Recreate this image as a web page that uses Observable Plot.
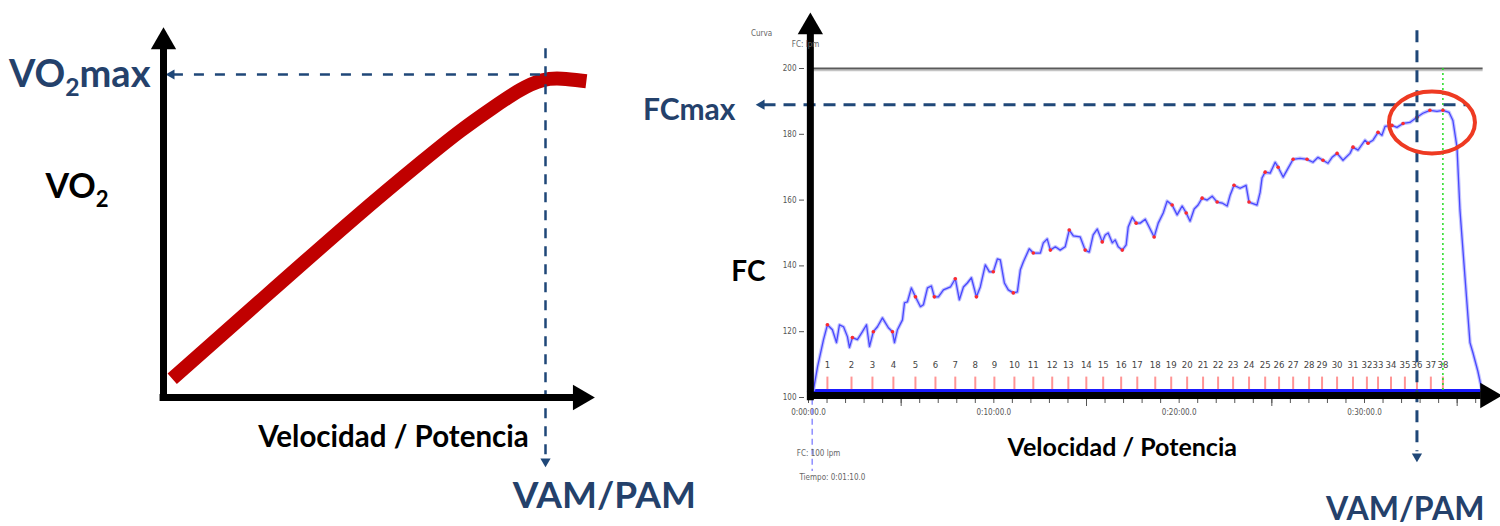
<!DOCTYPE html>
<html><head><meta charset="utf-8">
<script src="https://cdn.jsdelivr.net/npm/d3@7"></script>
<script src="https://cdn.jsdelivr.net/npm/@observablehq/plot@0.6"></script>
<style>
body{margin:0;background:#fff;}
#wrap{position:relative;width:1500px;height:526px;overflow:hidden;background:#fff;}
#wrap svg{position:absolute;top:0;overflow:visible;}
</style></head><body><div id="wrap"></div>
<script>
// ---------- LEFT: VO2 vs speed (x: % of VAM, y: % of VO2max) ----------
const vo2Speed = [2.28, 25.4, 51.6, 69.0, 77.7, 86.4, 93.5, 99.5, 103.9, 110.7];
const vo2Value = [5.79, 30.0, 57.4, 74.4, 82.7, 89.9, 95.6, 98.7, 98.9, 97.9];
const vo2maxLevel = 100;
const vamLevel = 100;

// ---------- RIGHT: heart rate (bpm) vs time (min) ----------
const hrTime = [0, 0.27, 0.49, 0.81, 1.02, 1.29, 1.51, 1.67, 1.89, 2.10, 2.21, 2.37, 2.64, 2.91, 3.13, 3.29, 3.50, 3.72, 3.99, 4.15, 4.31, 4.53, 4.64, 4.80, 5.07, 5.18, 5.34, 5.55, 5.77, 6.04, 6.20, 6.42, 6.63, 6.79, 7.01, 7.28, 7.66, 7.92, 8.14, 8.36, 8.57, 8.79, 9.06, 9.27, 9.54, 9.76, 9.97, 10.19, 10.35, 10.57, 10.78, 11.05, 11.27, 11.43, 11.59, 11.91, 12.13, 12.51, 12.67, 12.88, 13.05, 13.32, 13.58, 13.85, 14.07, 14.29, 14.66, 14.93, 15.15, 15.36, 15.58, 15.85, 16.01, 16.17, 16.39, 16.55, 16.71, 16.93, 17.14, 17.25, 17.47, 17.68, 17.90, 18.17, 18.38, 18.65, 18.87, 19.14, 19.35, 19.62, 19.89, 20.16, 20.38, 20.59, 20.81, 21.02, 21.24, 21.51, 21.78, 22.05, 22.32, 22.59, 22.75, 22.96, 23.29, 23.61, 23.77, 24.20, 24.37, 24.47, 24.64, 24.91, 25.18, 25.34, 25.61, 25.88, 26.15, 26.52, 26.90, 27.22, 27.49, 27.76, 28.03, 28.25, 28.52, 28.84, 29.22, 29.38, 29.65, 30.03, 30.19, 30.46, 30.73, 30.94, 31.11, 31.48, 31.75, 32.08, 32.45, 32.83, 33.15, 33.53, 33.91, 34.23, 34.56, 34.77, 34.99, 35.15, 35.42, 35.69, 35.85, 36.12, 36.33];
const hrValue = [101.8, 102.4, 109.4, 117.6, 122.1, 120.6, 116.7, 122.1, 121.5, 118.5, 115.2, 118.2, 117.6, 120.0, 122.1, 115.5, 120.0, 121.5, 124.2, 122.7, 121.2, 120.0, 116.7, 120.6, 123.6, 128.8, 129.1, 133.3, 130.6, 127.6, 128.2, 133.3, 133.9, 130.6, 130.6, 132.7, 133.6, 136.1, 129.7, 133.6, 134.8, 136.4, 130.6, 133.6, 140.3, 138.2, 138.2, 142.1, 141.8, 134.8, 132.7, 131.8, 132.1, 138.8, 141.2, 145.2, 143.9, 143.9, 147.0, 148.2, 144.8, 145.8, 144.8, 145.8, 150.9, 149.1, 148.8, 144.8, 144.2, 149.4, 151.2, 147.3, 149.4, 150.0, 147.0, 147.9, 145.8, 144.8, 146.4, 151.8, 154.8, 153.0, 153.0, 154.2, 151.8, 148.8, 153.0, 156.1, 159.7, 158.5, 155.5, 158.2, 156.1, 153.6, 157.3, 158.5, 160.6, 160.0, 161.2, 159.4, 159.1, 158.2, 161.5, 164.5, 163.6, 164.5, 159.4, 158.5, 162.4, 166.7, 168.5, 168.2, 171.5, 170.0, 167.0, 169.7, 172.4, 172.7, 172.4, 171.5, 173.0, 172.1, 171.2, 173.0, 174.2, 172.1, 174.2, 176.1, 175.2, 178.2, 177.3, 178.2, 180.6, 179.7, 182.4, 182.7, 182.1, 183.3, 183.6, 185.2, 186.4, 187.3, 187.0, 187.3, 186.7, 184.2, 176.1, 157.0, 136.7, 116.7, 113.6, 107.9, 102.4];
const stageNumbers = [1,2,3,4,5,6,7,8,9,10,11,12,13,14,15,16,17,18,19,20,21,22,23,24,25,26,27,28,29,30,31,32,33,34,35,36,37,38];
const stageTimes = [1.02, 2.32, 3.45, 4.58, 5.77, 6.85, 7.92, 9.00, 10.03, 11.11, 12.13, 13.15, 14.02, 14.99, 15.90, 16.87, 17.74, 18.71, 19.57, 20.43, 21.29, 22.10, 22.91, 23.77, 24.64, 25.39, 26.15, 27.01, 27.71, 28.52, 29.38, 30.13, 30.73, 31.43, 32.18, 32.83, 33.58, 34.23];
const hrTicks = [100, 120, 140, 160, 180, 200];
const timeTickValues = [0, 10, 20, 30];
const timeTickLabels = ["0:00:00.0", "0:10:00.0", "0:20:00.0", "0:30:00.0"];
const fcMaxLevel = 189;
const vamTime = 32.83;
const peakTime = 34.23;
const hrCeiling = 200;

const FONT = "Lato, 'Open Sans', sans-serif";
const SMALL = "'DejaVu Sans Condensed', 'DejaVu Sans', sans-serif";
const NAVY = "#24416b";
const DASH = "#1f4778";

const vo2Data = vo2Speed.map((x, i) => ({x, y: vo2Value[i]}));
const hrData = hrTime.map((t, i) => ({t, hr: hrValue[i]}));
const stageDots = stageTimes.map(s => hrData[d3.minIndex(hrTime, t => Math.abs(t - s))]);

const tri = (extra) => Object.assign({symbol: "triangle", fill: "black", stroke: "none"}, extra);

// ---------------- left plot ----------------
const left = Plot.plot({
  width: 740, height: 526,
  marginLeft: 163, marginRight: 195, marginTop: 74, marginBottom: 129,
  x: {domain: [0, 100], axis: null},
  y: {domain: [0, 100], axis: null},
  style: {fontFamily: FONT, background: "transparent", overflow: "visible"},
  marks: [
    // VO2 curve
    Plot.line(vo2Data, {x: "x", y: "y", stroke: "#c00000", strokeWidth: 14, curve: "basis", strokeLinecap: "butt"}),
    // guides
    Plot.ruleY([vo2maxLevel], {x1: 2.6, x2: vamLevel, stroke: DASH, strokeWidth: 2.5, strokeDasharray: "10,11"}),
    Plot.dot([vo2maxLevel], {x: 2.1, y: d => d, ...tri({r: 3.8, rotate: -90, fill: DASH})}),
    Plot.ruleX([vamLevel], {y1: 108, y2: -18.5, stroke: DASH, strokeWidth: 2.5, strokeDasharray: "10,8"}),
    Plot.dot([vamLevel], {x: d => d, y: -19.8, ...tri({r: 3.8, rotate: 180, fill: DASH})}),
    // axes
    Plot.ruleX([0], {y1: -0.9, y2: 108, stroke: "black", strokeWidth: 7}),
    Plot.dot([0], {x: d => d, y: 110.1, ...tri({r: 9.4})}),
    Plot.ruleY([0], {x1: -0.9, x2: 108, stroke: "black", strokeWidth: 7}),
    Plot.dot([0], {x: 109.1, y: d => d, ...tri({r: 9.4, rotate: 90})}),
    // labels
    Plot.text(["VO2max"], {x: 0, y: vo2maxLevel, dx: -13, textAnchor: "end", fontSize: 38, fontWeight: "bold", fill: NAVY}),
    Plot.text(["VO2"], {x: 0, y: 65, dx: -118, textAnchor: "start", fontSize: 34, fontWeight: "bold", fill: "black"}),
    Plot.text(["Velocidad / Potencia"], {x: 60.2, y: -12.4, fontSize: 29.5, fontWeight: "bold", fill: "black"}),
    Plot.text(["VAM/PAM"], {x: 115.4, y: -30.5, fontSize: 37, fontWeight: "bold", fill: NAVY})
  ]
});
left.style.left = "0px";

// ---------------- right plot ----------------
const ellipse = {draw(ctx) {
  const rx = 43, ry = 31, k = 0.5523;
  ctx.moveTo(rx, 0);
  ctx.bezierCurveTo(rx, ry * k, rx * k, ry, 0, ry);
  ctx.bezierCurveTo(-rx * k, ry, -rx, ry * k, -rx, 0);
  ctx.bezierCurveTo(-rx, -ry * k, -rx * k, -ry, 0, -ry);
  ctx.bezierCurveTo(rx * k, -ry, rx, -ry * k, rx, 0);
  ctx.closePath();
}};
const fmtTime = d => { const i = timeTickValues.indexOf(d); return i >= 0 ? timeTickLabels[i] : ""; };

const right = Plot.plot({
  width: 760, height: 526,
  marginLeft: 68, marginRight: 136, marginTop: 68, marginBottom: 129,
  x: {domain: [0, 30], axis: null},
  y: {domain: [100, 200], axis: null},
  style: {fontFamily: FONT, background: "transparent", overflow: "visible"},
  marks: [
    // monitor frame pieces
    Plot.ruleY([hrCeiling], {x1: 0, x2: 36.4, stroke: "#c4c4c4", strokeWidth: 1.5, dy: 2}),
    Plot.ruleY([hrCeiling], {x1: 0, x2: 36.4, stroke: "#5a5a5a", strokeWidth: 2}),
    Plot.axisY({ticks: hrTicks, anchor: "left", label: null, tickSize: 5, tickPadding: 3, dx: -4, fontSize: 8, fontFamily: SMALL, fill: "#555", color: "#555"}),
    Plot.axisX({ticks: d3.range(0, 37), anchor: "bottom", label: null, tickSize: 6, tickPadding: 6, tickFormat: fmtTime, fontSize: 8, fontFamily: SMALL, color: "#555"}),
    Plot.axisX({ticks: [5, 15, 25, 35], anchor: "bottom", label: null, tickSize: 9, tickFormat: () => "", color: "#555"}),
    Plot.ruleY([102.1], {x1: 0.1, x2: 36.4, stroke: "#1a1aff", strokeWidth: 3}),
    Plot.ruleX(stageTimes, {y1: 102.4, y2: 106.2, stroke: "#ff5c5c", strokeWidth: 2, strokeOpacity: 0.65}),
    Plot.text(stageNumbers, {x: stageTimes, y: 110, fontSize: 9.5, fontFamily: SMALL, fill: "#444"}),
    Plot.ruleX([peakTime], {y1: hrCeiling, y2: 101.6, stroke: "#22dd22", strokeWidth: 1.5, strokeDasharray: "2,3"}),
    Plot.ruleX([0.2], {y1: 99.5, y2: 77.5, stroke: "#8f8fff", strokeWidth: 1.5, strokeDasharray: "6,4"}),
    // heart-rate trace
    Plot.line(hrData, {x: "t", y: "hr", stroke: "#b4b4ff", strokeWidth: 3.6, strokeOpacity: 0.8}),
    Plot.line(hrData, {x: "t", y: "hr", stroke: "#4848ff", strokeWidth: 1.3}),
    Plot.dot(stageDots, {x: "t", y: "hr", r: 1.8, fill: "#ff2a2a"}),
    // guides
    Plot.ruleY([fcMaxLevel], {x1: -2.4, x2: 35.6, stroke: DASH, strokeWidth: 3, strokeDasharray: "12,8"}),
    Plot.dot([fcMaxLevel], {x: -2.53, y: d => d, ...tri({r: 3.8, rotate: -90, fill: DASH})}),
    Plot.ruleX([vamTime], {y1: 211.5, y2: 83.5, stroke: DASH, strokeWidth: 3, strokeDasharray: "12,8"}),
    Plot.dot([vamTime], {x: d => d, y: 82.1, ...tri({r: 3.8, rotate: 180, fill: DASH})}),
    Plot.dot([{t: 33.64, hr: 183.6}], {x: "t", y: "hr", symbol: ellipse, r: 1, fill: "none", stroke: "#ee3a22", strokeWidth: 4}),
    // axes
    Plot.ruleX([0.1], {y1: 99, y2: 211, stroke: "black", strokeWidth: 7}),
    Plot.dot([0.1], {x: d => d, y: 212.6, ...tri({r: 9.4})}),
    Plot.ruleY([100.6], {x1: 0, x2: 36.3, stroke: "black", strokeWidth: 7}),
    Plot.dot([100.6], {x: 36.64, y: d => d, ...tri({r: 9.4, rotate: 90})}),
    // small monitor texts
    Plot.text(["Curva"], {x: -2.53, y: 210.6, fontSize: 8, fontFamily: SMALL, fill: "#666"}),
    Plot.text(["FC: lpm"], {x: -0.16, y: 207.3, fontSize: 8, fontFamily: SMALL, fill: "#666"}),
    Plot.text(["FC: 100 lpm"], {x: 0.54, y: 83, fontSize: 8, fontFamily: SMALL, fill: "#666"}),
    Plot.text(["Tiempo: 0:01:10.0"], {x: 1.29, y: 75.7, fontSize: 8, fontFamily: SMALL, fill: "#666"}),
    // labels
    Plot.text(["FCmax"], {x: 0, y: fcMaxLevel, dx: -73, dy: 6, textAnchor: "end", fontSize: 30, fontWeight: "bold", fill: NAVY}),
    Plot.text(["FC"], {x: 0, y: 138, dx: -43, textAnchor: "end", fontSize: 28, fontWeight: "bold", fill: "black"}),
    Plot.text(["Velocidad / Potencia"], {x: 16.93, y: 84.8, fontSize: 25, fontWeight: "bold", fill: "black"}),
    Plot.text(["VAM/PAM"], {x: 32.2, y: 65.8, fontSize: 32, fontWeight: "bold", fill: NAVY})
  ]
});
right.style.left = "740px";

document.getElementById("wrap").append(left, right);

// subscript "2" in VO2 labels
const ns = "http://www.w3.org/2000/svg";
for (const el of document.querySelectorAll("text")) {
  const s = el.textContent;
  if (s === "VO2max" || s === "VO2") {
    const fs = parseFloat(el.getAttribute("font-size") || el.parentNode.getAttribute("font-size")) || 34;
    el.textContent = "";
    const a = document.createElementNS(ns, "tspan"); a.textContent = "VO";
    const b = document.createElementNS(ns, "tspan"); b.textContent = "2";
    b.setAttribute("font-size", fs * 0.65); b.setAttribute("dy", fs * 0.24);
    el.append(a, b);
    if (s === "VO2max") {
      const c = document.createElementNS(ns, "tspan"); c.textContent = "max";
      c.setAttribute("dy", -fs * 0.24);
      el.append(c);
    }
  }
}
</script></body></html>
